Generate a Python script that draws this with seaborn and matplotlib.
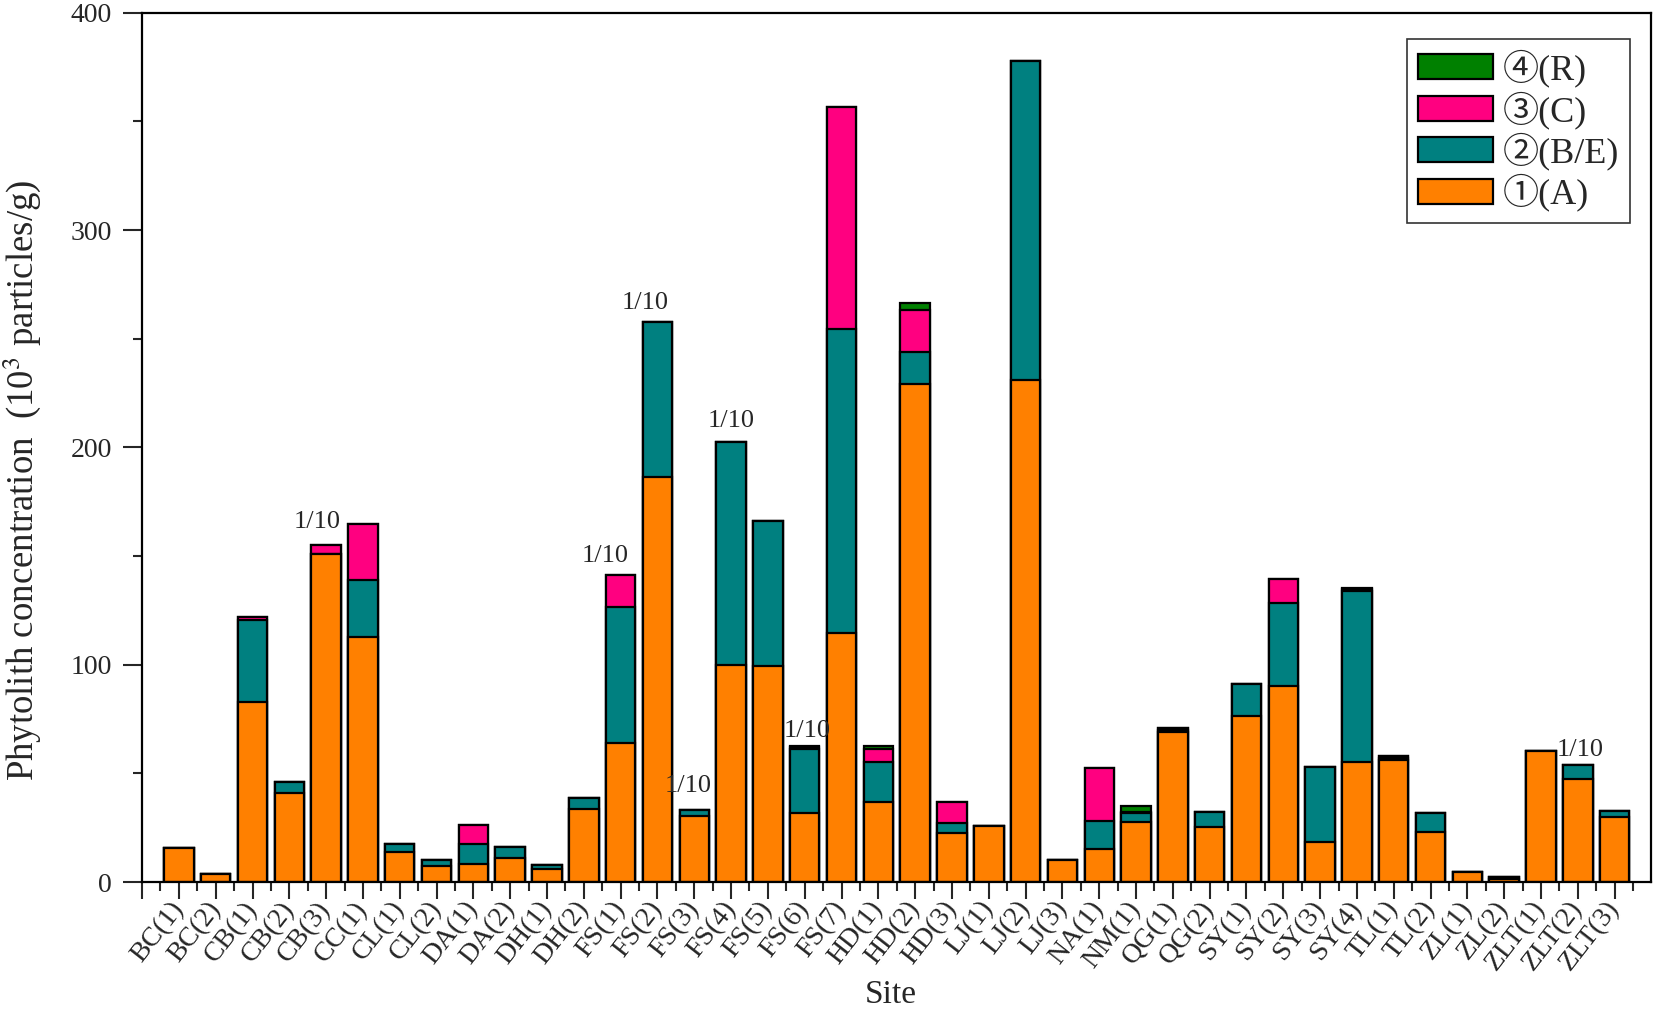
import numpy as np
import pandas as pd
import matplotlib
matplotlib.use("Agg")
import matplotlib.pyplot as plt
import seaborn as sns
from matplotlib.patches import Patch
from matplotlib.ticker import MultipleLocator, FixedLocator

# ---------------- data ----------------
sites = ['BC(1)', 'BC(2)', 'CB(1)', 'CB(2)', 'CB(3)', 'CC(1)', 'CL(1)', 'CL(2)',
         'DA(1)', 'DA(2)', 'DH(1)', 'DH(2)', 'FS(1)', 'FS(2)', 'FS(3)', 'FS(4)',
         'FS(5)', 'FS(6)', 'FS(7)', 'HD(1)', 'HD(2)', 'HD(3)', 'LJ(1)', 'LJ(2)',
         'LJ(3)', 'NA(1)', 'NM(1)', 'QG(1)', 'QG(2)', 'SY(1)', 'SY(2)', 'SY(3)',
         'SY(4)', 'TL(1)', 'TL(2)', 'ZL(1)', 'ZL(2)', 'ZLT(1)', 'ZLT(2)', 'ZLT(3)']

type_A = [15.5, 3.6, 82.8, 40.8, 150.9, 112.9, 14.0, 7.5,
          8.3, 11.2, 6.0, 33.5, 64.0, 186.5, 30.4, 99.9,
          99.4, 31.9, 114.6, 37.0, 229.0, 22.5, 25.9, 231.0,
          10.2, 15.0, 27.6, 69.0, 25.3, 76.4, 90.4, 18.4,
          55.2, 56.0, 22.9, 4.4, 1.5, 60.4, 47.5, 29.8]

type_BE = [0.0, 0.0, 37.8, 5.2, 0.0, 26.1, 3.5, 2.5,
           9.0, 4.7, 1.8, 5.0, 62.7, 71.2, 2.7, 102.4,
           66.6, 29.3, 139.9, 18.2, 14.8, 4.5, 0.0, 147.0,
           0.0, 13.2, 4.1, 1.0, 6.9, 14.6, 38.0, 34.5,
           78.8, 1.2, 9.0, 0.0, 1.0, 0.0, 6.5, 3.0]

type_C = [0.0, 0.0, 1.4, 0.0, 4.1, 25.7, 0.0, 0.0,
          8.9, 0.0, 0.0, 0.0, 14.6, 0.0, 0.0, 0.0,
          0.0, 0.8, 102.3, 6.0, 19.4, 9.8, 0.0, 0.0,
          0.0, 24.3, 0.5, 0.8, 0.0, 0.0, 11.0, 0.0,
          0.8, 0.6, 0.0, 0.0, 0.0, 0.0, 0.0, 0.0]

type_R = [0.0, 0.0, 0.0, 0.0, 0.0, 0.0, 0.0, 0.0,
          0.0, 0.0, 0.0, 0.0, 0.0, 0.0, 0.0, 0.0,
          0.0, 0.7, 0.0, 1.5, 3.1, 0.0, 0.0, 0.0,
          0.0, 0.0, 2.8, 0.0, 0.0, 0.0, 0.0, 0.0,
          0.5, 0.0, 0.0, 0.0, 0.0, 0.0, 0.0, 0.0]

legend_labels = ['④(R)', '③(C)', '②(B/E)', '①(A)']
scaled_sites = ['CB(3)', 'FS(1)', 'FS(2)', 'FS(3)', 'FS(4)', 'FS(6)', 'ZLT(2)']
scaled_note = '1/10'

# ---------------- style ----------------
sns.set_style("ticks")
plt.rcParams['font.family'] = ['Liberation Serif', 'Noto Sans CJK JP', 'DejaVu Sans']
plt.rcParams['mathtext.fontset'] = 'stix'

c_A = '#FF8000'
c_BE = '#008080'
c_C = '#FF0080'
c_R = '#008000'

df = pd.DataFrame({'site': sites, 'A': type_A, 'BE': type_BE, 'C': type_C, 'R': type_R})
df['s1'] = df['A']
df['s2'] = df['s1'] + df['BE']
df['s3'] = df['s2'] + df['C']
df['s4'] = df['s3'] + df['R']

fig = plt.figure(figsize=(16.54, 10.10), dpi=100)
ax = fig.add_axes([0.0859, 0.1267, 0.9121, 0.8607])

for col, colr in [('s4', c_R), ('s3', c_C), ('s2', c_BE), ('s1', c_A)]:
    sns.barplot(data=df, x='site', y=col, order=sites, color=colr, saturation=1,
                edgecolor='black', linewidth=1.6, width=0.8, errorbar=None, ax=ax)

n = len(sites)
ax.set_xlim(-1.0, n - 0.02)
ax.set_ylim(0, 400)

ax.set_xticks(np.arange(-1, n))
ax.set_xticklabels([''] + sites, rotation=52, ha='right', va='center',
                   rotation_mode='anchor', fontsize=20)
ax.xaxis.set_minor_locator(FixedLocator(np.arange(-0.5, n, 1.0)))
ax.yaxis.set_major_locator(MultipleLocator(100))
ax.yaxis.set_minor_locator(MultipleLocator(50))
ax.tick_params(axis='x', which='major', direction='out', length=12, width=1.5,
               top=False, pad=4)
ax.tick_params(axis='y', which='major', direction='out', length=13.5, width=1.5,
               right=False, labelsize=20, pad=8)
ax.tick_params(axis='both', which='minor', direction='out', length=6.5, width=1.5,
               top=False, right=False)
for sp in ax.spines.values():
    sp.set_visible(True)
    sp.set_linewidth(1.6)
    sp.set_color('black')

ax.set_xlabel('Site', fontsize=24)
ax.xaxis.set_label_coords(0.496, -0.112)
ax.set_ylabel(r'Phytolith concentration  (10$^{3}$ particles/g)', fontsize=26.5)
ax.yaxis.set_label_coords(-0.066, 0.462)

# 1/10 notes
x_shift_px = {'CB(3)': -9, 'FS(1)': -15, 'FS(2)': -12, 'FS(3)': -6,
              'FS(4)': 0, 'FS(6)': 2, 'ZLT(2)': 2}
y_shift_px = {'CB(3)': 17, 'FS(1)': 13, 'FS(2)': 13, 'FS(3)': 18,
              'FS(4)': 15, 'FS(6)': 9, 'ZLT(2)': 9}
totals = dict(zip(df['site'], df['s4']))
for s in scaled_sites:
    i = sites.index(s)
    ax.annotate(scaled_note, xy=(i, totals[s]),
                xytext=(x_shift_px[s], y_shift_px[s]), textcoords='offset pixels',
                ha='center', va='baseline', fontsize=19)

handles = [Patch(facecolor=c, edgecolor='black', linewidth=1.6) for c in [c_R, c_C, c_BE, c_A]]
leg = ax.legend(handles, legend_labels, loc='upper right', bbox_to_anchor=(0.986, 0.970),
                borderaxespad=0, fontsize=26, frameon=True, fancybox=False,
                handlelength=2.1, handleheight=0.7, labelspacing=0.1,
                handletextpad=0.25, borderpad=0.3)
leg.get_frame().set_edgecolor('black')
leg.get_frame().set_linewidth(1.2)

fig.savefig('out.png', dpi=100)
